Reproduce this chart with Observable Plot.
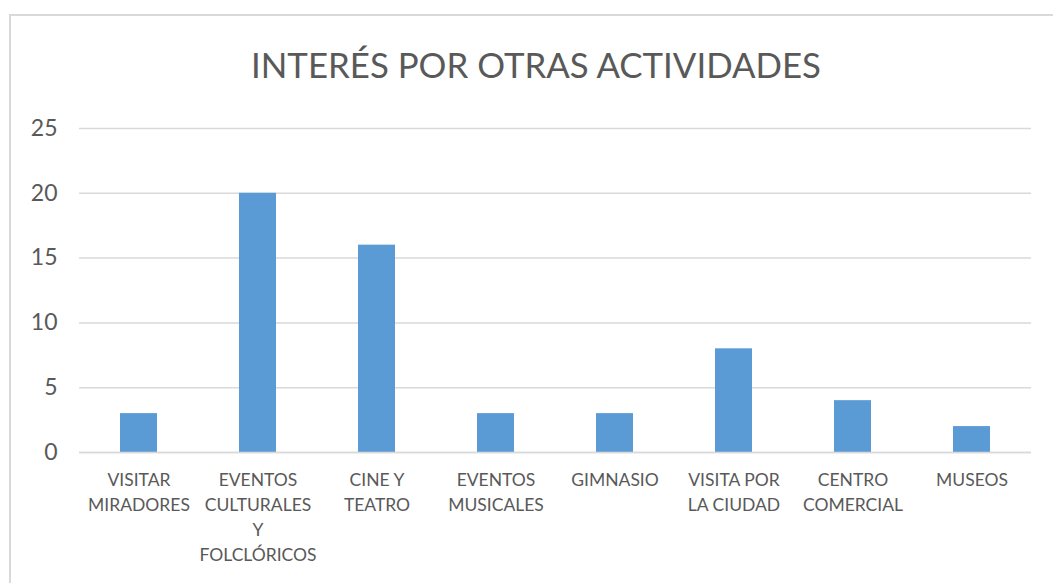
<!DOCTYPE html>
<html>
<head>
<meta charset="utf-8">
<script src="https://cdn.jsdelivr.net/npm/d3@7"></script>
<script src="https://cdn.jsdelivr.net/npm/@observablehq/plot@0.6"></script>
<style>
  html, body { margin: 0; padding: 0; background: #fff; width: 1053px; height: 583px; overflow: hidden; }
  #frame { position: absolute; left: 9px; top: 14px; width: 1100px; height: 620px; border: 2px solid #d9d9d9; box-sizing: border-box; }
  #title { position: absolute; left: 0; width: 1072px; top: 44px; text-align: center; font-family: Lato, sans-serif; font-size: 34.8px; color: #595959; }
  #chart { position: absolute; left: 0; top: 0; }
</style>
</head>
<body>
<div id="frame"></div>
<div id="title">INTERÉS POR OTRAS ACTIVIDADES</div>
<div id="chart"></div>
<script>
const categories = [
  "VISITAR MIRADORES",
  "EVENTOS CULTURALES Y FOLCLÓRICOS",
  "CINE Y TEATRO",
  "EVENTOS MUSICALES",
  "GIMNASIO",
  "VISITA POR LA CIUDAD",
  "CENTRO COMERCIAL",
  "MUSEOS"
];
const tickLabels = [
  "VISITAR\nMIRADORES",
  "EVENTOS\nCULTURALES\nY\nFOLCLÓRICOS",
  "CINE Y\nTEATRO",
  "EVENTOS\nMUSICALES",
  "GIMNASIO",
  "VISITA POR\nLA CIUDAD",
  "CENTRO\nCOMERCIAL",
  "MUSEOS"
];
const values = [3, 20, 16, 3, 3, 8, 4, 2];
const yTicks = [0, 5, 10, 15, 20, 25];

const data = categories.map((c, i) => ({category: c, value: values[i]}));
const labelOf = new Map(categories.map((c, i) => [c, tickLabels[i]]));

const chart = Plot.plot({
  width: 1053,
  height: 583,
  marginLeft: 79,
  marginRight: 22,
  marginTop: 128,
  marginBottom: 131,
  style: { fontFamily: "Lato, sans-serif", color: "#595959", background: "transparent" },
  x: { domain: categories, paddingInner: 0.69, paddingOuter: 0.345, align: 0.5 },
  y: { domain: [0, 25] },
  marks: [
    Plot.gridY(yTicks, { stroke: "#d9d9d9", strokeOpacity: 1, strokeWidth: 1.5 }),
    Plot.barY(data, { x: "category", y: "value", fill: "#5b9bd5" }),
    Plot.axisY(yTicks, { tickSize: 0, tickPadding: 22, fontSize: 23, label: null, fill: "#595959" }),
    Plot.axisX({ tickSize: 0, tickPadding: 16, fontSize: 17.5, lineHeight: 1.42, label: null, fill: "#595959", tickFormat: d => labelOf.get(d) }),
    Plot.ruleY([0], { stroke: "#d9d9d9", strokeWidth: 1.5 })
  ]
});
document.getElementById("chart").appendChild(chart);
</script>
</body>
</html>
